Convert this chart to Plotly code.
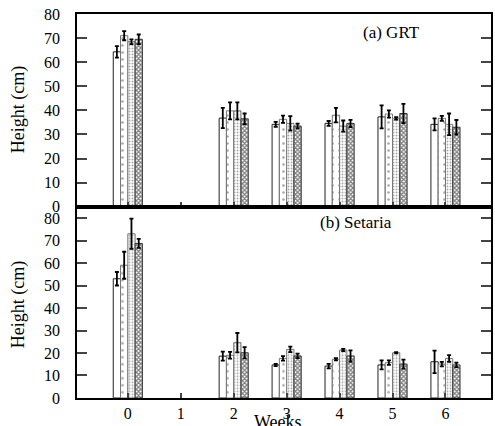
import plotly.graph_objects as go
from plotly.subplots import make_subplots

weeks = [0, 2, 3, 4, 5, 6]
week_ticks = [0, 1, 2, 3, 4, 5, 6]
y_ticks = [0, 10, 20, 30, 40, 50, 60, 70, 80]

# (a) GRT heights and error bars, four treatments
grt_1 = [64.3, 36.8, 34.2, 34.6, 37.3, 34.2]
grt_2 = [71.0, 39.8, 36.3, 38.0, 38.5, 36.7]
grt_3 = [68.5, 39.8, 34.6, 33.5, 36.7, 34.2]
grt_4 = [69.5, 36.5, 33.5, 34.6, 38.7, 33.0]
grt_e1 = [2.4, 4.2, 1.0, 1.0, 4.8, 2.5]
grt_e2 = [1.9, 3.5, 1.5, 3.0, 1.5, 1.0]
grt_e3 = [1.0, 3.5, 3.0, 2.3, 0.5, 4.5]
grt_e4 = [2.0, 2.2, 1.0, 1.5, 4.0, 3.0]

# (b) Setaria heights and error bars
set_1 = [53.0, 18.6, 14.7, 14.2, 14.7, 16.1]
set_2 = [59.0, 19.0, 17.6, 17.2, 15.7, 15.1]
set_3 = [73.0, 24.6, 21.6, 21.3, 20.1, 17.6]
set_4 = [68.7, 20.1, 18.7, 18.7, 15.1, 14.7]
set_e1 = [3.0, 2.0, 0.5, 1.0, 2.0, 5.0]
set_e2 = [6.0, 1.5, 1.0, 0.5, 1.0, 1.0]
set_e3 = [6.7, 4.3, 1.2, 0.5, 0.3, 1.5]
set_e4 = [2.0, 2.5, 1.0, 2.5, 2.0, 1.0]

styles = [
    dict(color="white", line=dict(color="#222", width=1)),
    dict(color="white", line=dict(color="#777", width=1),
         pattern=dict(shape=".", size=7, solidity=0.12, fgcolor="#555", bgcolor="white")),
    dict(color="white", line=dict(color="#777", width=1),
         pattern=dict(shape=".", size=3, solidity=0.35, fgcolor="#555", bgcolor="white")),
    dict(color="white", line=dict(color="#333", width=1),
         pattern=dict(shape="x", size=3, solidity=0.65, fgcolor="#000", bgcolor="white")),
]

fig = make_subplots(rows=2, cols=1, shared_xaxes=True, vertical_spacing=0)

top = [(grt_1, grt_e1), (grt_2, grt_e2), (grt_3, grt_e3), (grt_4, grt_e4)]
bot = [(set_1, set_e1), (set_2, set_e2), (set_3, set_e3), (set_4, set_e4)]

for row, series in ((1, top), (2, bot)):
    for i, (vals, errs) in enumerate(series):
        fig.add_trace(go.Bar(
            x=weeks, y=vals, marker=styles[i], showlegend=False,
            error_y=dict(type="data", array=errs, color="black", thickness=1.8, width=2),
        ), row=row, col=1)

FAM = "Liberation Serif"
font = dict(family=FAM, size=16, color="black")

fig.update_layout(
    width=495, height=426,
    margin=dict(l=77, r=2, t=14, b=28),
    paper_bgcolor="white", plot_bgcolor="white",
    barmode="group", bargap=0.45, bargroupgap=0,
    font=font,
    xaxis=dict(domain=[0, 1]),
    yaxis=dict(domain=[0.498, 1]),
    yaxis2=dict(domain=[0, 0.498]),
)

fig.update_xaxes(range=[-0.96, 6.86], tickvals=week_ticks, ticks="inside", ticklen=5,
                 tickwidth=1.5, showline=True, linecolor="black", linewidth=1.5, mirror=True,
                 showgrid=False, zeroline=False, tickfont=font)
fig.update_xaxes(showticklabels=False, row=1, col=1)
fig.update_xaxes(ticktext=[str(w) for w in week_ticks], row=2, col=1)

fig.update_yaxes(tickvals=y_ticks, ticks="inside", ticklen=10, tickwidth=1.5,
                 showline=True, linecolor="black", linewidth=1.5, mirror="ticks",
                 showgrid=False, zeroline=False, tickfont=font, ticklabelstandoff=12)
fig.update_yaxes(range=[0, 80], row=1, col=1)
fig.update_yaxes(range=[0, 85], row=2, col=1)

ann = dict(xref="paper", yref="paper", showarrow=False,
           font=dict(family=FAM, size=17, color="black"))
fig.add_annotation(text="Height (cm)", x=-0.142, y=0.75, textangle=-90,
                   xanchor="center", yanchor="middle",
                   **{**ann, "font": dict(family=FAM, size=18, color="black")})
fig.add_annotation(text="Height (cm)", x=-0.142, y=0.242, textangle=-90,
                   xanchor="center", yanchor="middle",
                   **{**ann, "font": dict(family=FAM, size=18, color="black")})
fig.add_annotation(text="(a) GRT", x=0.76, y=0.953, xanchor="center", yanchor="middle", **ann)
fig.add_annotation(text="(b) Setaria", x=0.675, y=0.456, xanchor="center", yanchor="middle", **ann)
fig.add_annotation(text="Weeks", x=0.486, y=-0.062, xanchor="center", yanchor="middle",
                   **{**ann, "font": dict(family=FAM, size=18, color="black")})

fig.write_html("out.html", config={"displayModeBar": False},
               post_script="document.body.style.margin='0';")
